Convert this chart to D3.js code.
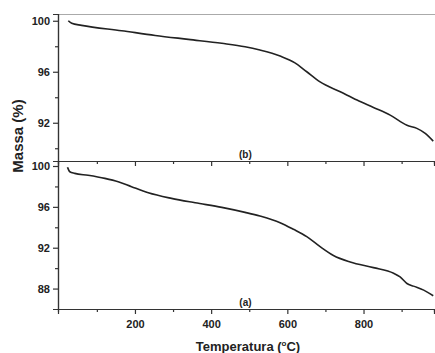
<!DOCTYPE html>
<html>
<head>
<meta charset="utf-8">
<script src="https://cdn.jsdelivr.net/npm/d3@7"></script>
<style>
  body { margin: 0; background: #fff; }
  svg text { font-family: "Liberation Sans", Arial, sans-serif; font-weight: bold; fill: #222; }
</style>
</head>
<body>
<div id="chart"></div>
<script>
// curve (b) - upper panel
const tempB = [25, 34, 60, 165, 253, 340, 428, 489, 528, 581, 620, 651, 686, 739, 783, 826, 870, 914, 940, 962, 983];
const massB = [100.0, 99.8, 99.64, 99.22, 98.85, 98.54, 98.23, 97.96, 97.7, 97.23, 96.7, 96.0, 95.2, 94.43, 93.78, 93.2, 92.6, 91.8, 91.56, 91.17, 90.56];

// curve (a) - lower panel
const tempA = [23, 29, 42, 77, 121, 156, 191, 235, 296, 358, 428, 489, 528, 581, 616, 651, 686, 721, 765, 826, 879, 896, 914, 931, 958, 983];
const massA = [99.87, 99.44, 99.28, 99.09, 98.79, 98.46, 97.97, 97.38, 96.83, 96.4, 95.95, 95.46, 95.1, 94.45, 93.8, 93.08, 92.1, 91.24, 90.6, 90.05, 89.5, 89.14, 88.5, 88.24, 87.85, 87.3];

const xMajor = [200, 400, 600, 800];
const xMinor = [100, 300, 500, 700, 900];
const yMajorB = [92, 96, 100];
const yMinorB = [90, 94, 98];
const yMajorA = [88, 92, 96, 100];
const yMinorA = [90, 94, 98];

const W = 435, H = 353;
const left = 58, right = 434;
const topB = 14, mid = 161, bottomA = 309;

const svg = d3.select('#chart').append('svg')
  .attr('width', W)
  .attr('height', H);

const x = d3.scaleLinear().domain([-2, 985]).range([left, right]);
const yB = d3.scaleLinear().domain([89.0, 100.53]).range([mid, topB]);
const yA = d3.scaleLinear().domain([86.0, 100.49]).range([bottomA, mid]);

// top frame line (light)
svg.append('line')
  .attr('x1', left).attr('x2', W)
  .attr('y1', topB + 0.5).attr('y2', topB + 0.5)
  .attr('stroke', '#aaa').attr('stroke-width', 1);

function styleAxis(g) {
  g.select('.domain').attr('stroke', '#333').attr('stroke-width', 1.2);
  g.selectAll('.tick line').attr('stroke', '#333').attr('stroke-width', 1.2);
  g.selectAll('.tick text').style('font-size', '11px').attr('fill', '#222');
}

function yAxes(scale, major, minor) {
  svg.append('g')
    .attr('transform', 'translate(' + left + ',0)')
    .call(d3.axisLeft(scale).tickValues(minor).tickSize(3).tickFormat(''))
    .call(styleAxis);
  svg.append('g')
    .attr('transform', 'translate(' + left + ',0)')
    .call(d3.axisLeft(scale).tickValues(major).tickSize(5).tickPadding(3).tickFormat(d3.format('d')))
    .call(styleAxis);
}

yAxes(yB, yMajorB, yMinorB);
yAxes(yA, yMajorA, yMinorA);

// x axis of upper panel (ticks only, no labels)
svg.append('g')
  .attr('transform', 'translate(0,' + mid + ')')
  .call(d3.axisBottom(x).tickValues(xMinor).tickSize(3).tickFormat(''))
  .call(styleAxis);
svg.append('g')
  .attr('transform', 'translate(0,' + mid + ')')
  .call(d3.axisBottom(x).tickValues(xMajor).tickSize(5).tickFormat(''))
  .call(styleAxis);

// x axis of lower panel
svg.append('g')
  .attr('transform', 'translate(0,' + bottomA + ')')
  .call(d3.axisBottom(x).tickValues(xMinor).tickSize(3).tickFormat(''))
  .call(styleAxis);
svg.append('g')
  .attr('transform', 'translate(0,' + bottomA + ')')
  .call(d3.axisBottom(x).tickValues(xMajor).tickSize(5).tickPadding(6).tickFormat(d3.format('d')))
  .call(styleAxis);

// curves
const line = (ys) => d3.line()
  .curve(d3.curveMonotoneX)
  .x((d) => x(d[0]))
  .y((d) => ys(d[1]));

svg.append('path')
  .datum(d3.zip(tempB, massB))
  .attr('fill', 'none')
  .attr('stroke', '#222')
  .attr('stroke-width', 1.6)
  .attr('d', line(yB));

svg.append('path')
  .datum(d3.zip(tempA, massA))
  .attr('fill', 'none')
  .attr('stroke', '#222')
  .attr('stroke-width', 1.6)
  .attr('d', line(yA));

// panel labels
svg.append('text')
  .attr('x', x(490)).attr('y', mid - 3)
  .attr('text-anchor', 'middle')
  .style('font-size', '10px')
  .text('(b)');
svg.append('text')
  .attr('x', x(490)).attr('y', bottomA - 3)
  .attr('text-anchor', 'middle')
  .style('font-size', '10px')
  .text('(a)');

// axis titles
const xt = svg.append('text')
  .attr('x', 248).attr('y', 351)
  .attr('text-anchor', 'middle')
  .style('font-size', '13px');
xt.append('tspan').text('Temperatura (');
xt.append('tspan').attr('dy', -5).style('font-size', '8px').text('o');
xt.append('tspan').attr('dy', 5).text('C)');

svg.append('text')
  .attr('transform', 'translate(23,' + 136 + ') rotate(-90)')
  .attr('text-anchor', 'middle')
  .style('font-size', '15px')
  .text('Massa (%)');
</script>
</body>
</html>
